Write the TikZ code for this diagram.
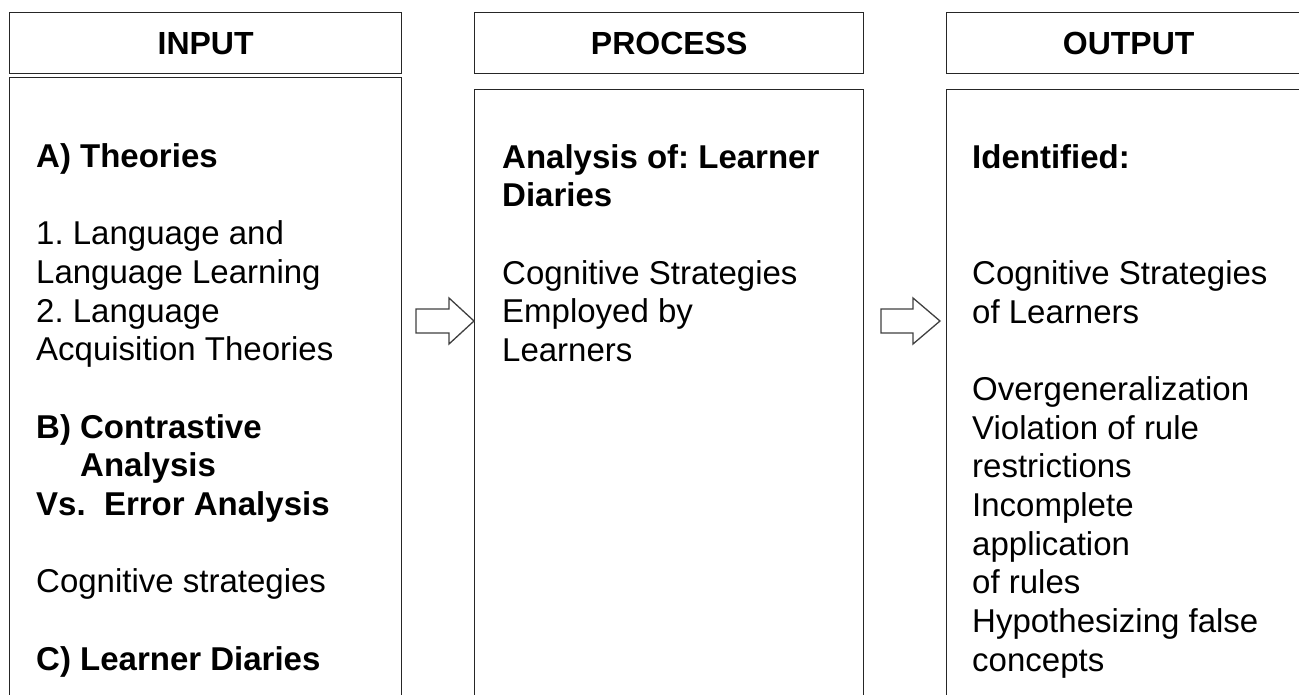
\documentclass[tikz,border=0pt]{standalone}
\usepackage{fontspec}
\setmainfont{Liberation Sans}
\frenchspacing
\begin{document}
\begin{tikzpicture}[x=1pt,y=-1pt,
  box/.style={draw=black!85,line width=1.3pt,inner sep=0pt,anchor=north west},
  headtext/.style={font=\fontsize{32}{38}\selectfont\bfseries},
  bodytext/.style={font=\fontsize{33}{38.7}\selectfont\frenchspacing, align=left, anchor=north west, inner sep=0pt, text=black},
  blockarrow/.style={draw=black!75, line width=1.3pt, fill=white, line join=miter}]
\useasboundingbox (0,0) rectangle (1299,694);
\begin{scope}
\clip (0,0) rectangle (1299,694);
% headers
\node[box, minimum width=392pt, minimum height=61pt, headtext] (inhead) at (9,12) {INPUT};
\node[box, minimum width=389pt, minimum height=61pt, headtext] (prohead) at (474,12) {PROCESS};
\node[box, minimum width=364pt, minimum height=61pt, headtext] (outhead) at (946,12) {OUTPUT};
% bodies
\node[box, minimum width=392pt, minimum height=650pt] (inbody) at (9,77) {};
\node[box, minimum width=389pt, minimum height=640pt] (probody) at (474,89) {};
\node[box, minimum width=364pt, minimum height=640pt] (outbody) at (946,89) {};
% arrows (block arrows between the boxes)
\coordinate (t1) at (probody.west |- 0,321);
\coordinate (t2) at (940,321);
\draw[blockarrow] (t1) -- ++(-25,-23) -- ++(0,11) -- ++(-33,0) -- ++(0,24) -- ++(33,0) -- ++(0,11) -- cycle;
\draw[blockarrow] (t2) -- ++(-27,-23) -- ++(0,11) -- ++(-32,0) -- ++(0,24) -- ++(32,0) -- ++(0,11) -- cycle;
% texts
\node[bodytext] (intext) at (36,139.9) {\strut\textbf{A) Theories}\\[38.7pt]
1. Language and\\
Language Learning\\
2. Language\\
Acquisition Theories\\[38.7pt]
\textbf{B) Contrastive}\\
\textbf{\hphantom{B) }Analysis}\\
\textbf{Vs.\ \ Error Analysis}\\[38.7pt]
Cognitive strategies\\[38.7pt]
\textbf{C) Learner Diaries}};
\node[bodytext] (protext) at (502,140.9) {\strut\textbf{Analysis of: Learner}\\
\textbf{Diaries}\\[38.7pt]
Cognitive Strategies\\
Employed by\\
Learners};
\node[bodytext] (outtext) at (972,140.9) {\strut\textbf{Identified:}\\[77.4pt]
Cognitive Strategies\\
of Learners\\[38.7pt]
Overgeneralization\\
Violation of rule\\
restrictions\\
Incomplete\\
application\\
of rules\\
Hypothesizing false\\
concepts};
\end{scope}
\end{tikzpicture}
\end{document}
